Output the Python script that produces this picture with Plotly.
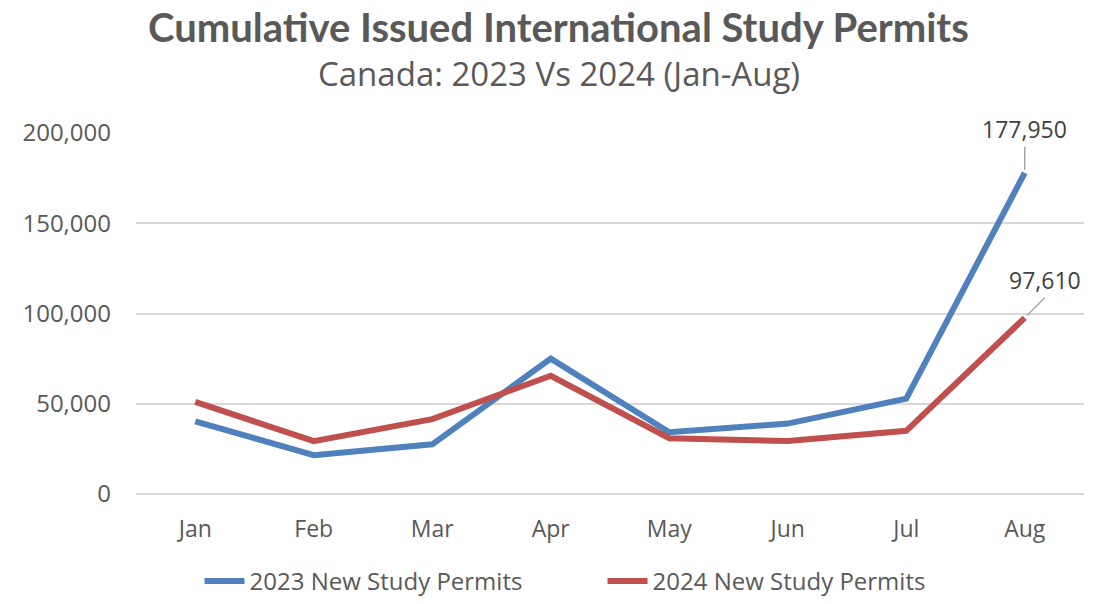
import plotly.graph_objects as go

months = ["Jan", "Feb", "Mar", "Apr", "May", "Jun", "Jul", "Aug"]
permits_2023 = [40300, 21500, 27500, 75000, 34200, 39000, 52800, 177950]
permits_2024 = [51000, 29300, 41500, 65500, 30900, 29300, 35000, 97610]
y_ticks = [0, 50000, 100000, 150000, 200000]
y_tick_text = ["0", "50,000", "100,000", "150,000", "200,000"]

blue = "#4f81bd"
red = "#c0504d"
grey_text = "#595959"

fig = go.Figure()
fig.add_trace(go.Scatter(x=months, y=permits_2023, mode="lines", name="2023 New Study Permits",
                         line=dict(color=blue, width=6)))
fig.add_trace(go.Scatter(x=months, y=permits_2024, mode="lines", name="2024 New Study Permits",
                         line=dict(color=red, width=6)))

# value labels on the final month with short leader lines
fig.add_annotation(x=months[-1], y=permits_2023[-1], text=f"{permits_2023[-1]:,}",
                   showarrow=True, arrowhead=0, arrowwidth=1.5, arrowcolor="#a6a6a6",
                   ax=0, ay=-26, yanchor="bottom", standoff=3,
                   font=dict(family="Open Sans", size=23, color="#404040"))
fig.add_annotation(x=months[-1], y=permits_2024[-1], text=f"{permits_2024[-1]:,}",
                   showarrow=True, arrowhead=0, arrowwidth=1.5, arrowcolor="#a6a6a6",
                   ax=20, ay=-20, xanchor="center", yanchor="bottom", standoff=3,
                   font=dict(family="Open Sans", size=23, color="#404040"))

# title and subtitle
fig.add_annotation(xref="paper", yref="paper", x=0.446, y=1.294, yanchor="middle",
                   text="<b>Cumulative Issued International Study Permits</b>", showarrow=False,
                   font=dict(family="Lato", size=40, color=grey_text))
fig.add_annotation(xref="paper", yref="paper", x=0.446, y=1.166, yanchor="middle",
                   text="Canada: 2023 Vs 2024 (Jan-Aug)", showarrow=False,
                   font=dict(family="Open Sans", size=33, color=grey_text))

fig.update_layout(
    width=1099, height=604,
    paper_bgcolor="white", plot_bgcolor="white",
    margin=dict(l=136, r=15, t=133, b=110, autoexpand=False),
    xaxis=dict(showgrid=False, showline=False, ticks="", zeroline=False, range=[-0.5, 7.5],
               tickfont=dict(family="Open Sans", size=23, color=grey_text), ticklabelstandoff=19),
    yaxis=dict(range=[0, 200000], tickvals=y_ticks, ticktext=y_tick_text,
               showgrid=True, gridcolor="#d9d9d9", gridwidth=1.5,
               zeroline=True, zerolinecolor="#d9d9d9", zerolinewidth=1.5,
               showline=False, ticks="", ticklabelstandoff=24,
               tickfont=dict(family="Open Sans", size=24, color=grey_text)),
    legend=dict(orientation="h", x=0.067, xanchor="left", yref="container", y=0, yanchor="bottom",
                font=dict(family="Open Sans", size=24, color=grey_text),
                entrywidth=348, itemwidth=40, tracegroupgap=0),
    showlegend=True,
)

fig.write_html("out.html")
